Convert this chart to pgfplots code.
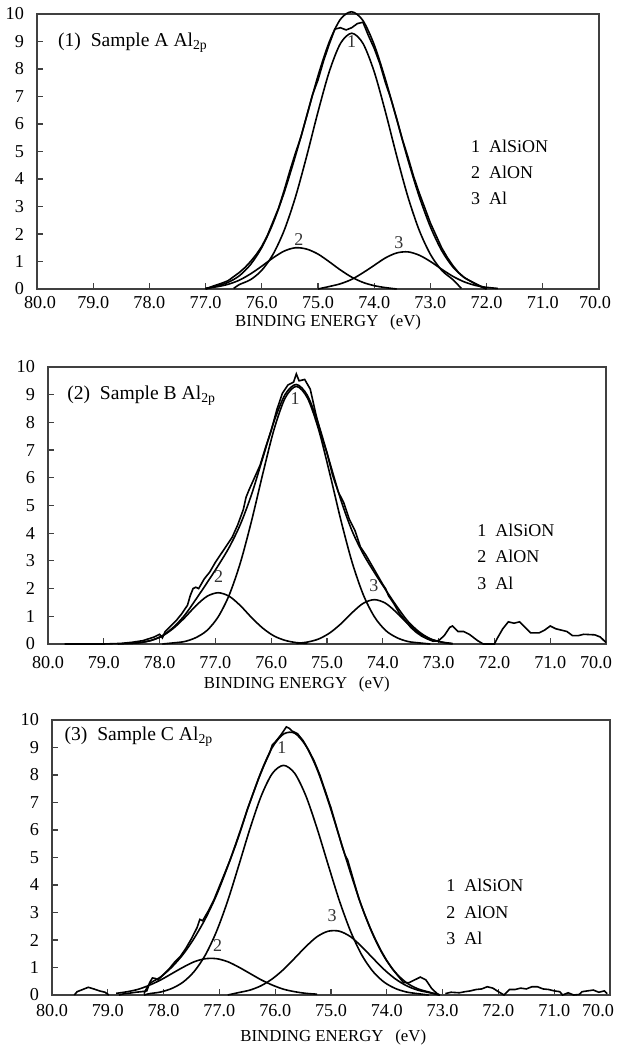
\documentclass[border=0pt]{standalone}
\usepackage{fontspec}
\setmainfont{Liberation Serif}
\usepackage{pgfplots}
\pgfplotsset{compat=1.18}
\pgfplotsset{
  xpsbase/.style={
    scale only axis,
    x dir=reverse,
    xmin=70, xmax=80, ymin=0, ymax=10,
    xtick={70,71,...,80},
    ytick={0,1,...,10},
    xtick pos=bottom, ytick pos=left,
    tick align=inside,
    major tick length=3pt,
    axis line style={line width=0.7pt, black!75},
    tick style={line width=0.6pt, black!75},
    /pgf/number format/assume math mode=true,
    xticklabel style={font=\fontsize{9.1}{10}\selectfont},
    yticklabel style={font=\fontsize{9.1}{10}\selectfont, xshift=-3pt},
    xlabel={BINDING ENERGY\hspace{0.7em}(eV)},
    clip=false,
    every axis plot/.append style={line width=0.8pt, black},
  },
  comp/.style={smooth, line width=0.8pt},
  meas/.style={line width=0.8pt},
}
\tikzset{
  lab/.style={font=\fontsize{9.8}{10}\selectfont, anchor=west},
  leg/.style={font=\fontsize{9}{10}\selectfont, anchor=west},
  pk/.style={font=\fontsize{9}{10}\selectfont, text=black!80},
}
\begin{document}
\begin{tikzpicture}
\useasboundingbox (0,0) rectangle (308pt,523.5pt);
%================ Panel 1 ================
\begin{axis}[xpsbase, at={(18.5pt,379pt)}, anchor=south west, width=281pt, height=137.5pt,
  xticklabels={{\kern-4pt70.0},71.0,72.0,73.0,74.0,75.0,76.0,77.0,78.0,79.0,{\kern3pt80.0}},
  xlabel style={at={(axis description cs:0.518,0)}, anchor=center, yshift=-16.5pt, font=\fontsize{8.4}{9}\selectfont}]
% component 1
\addplot[comp] coordinates {(76.5,0.02) (76.4,0.16) (76.2,0.34) (76.0,0.68) (75.8,1.26) (75.6,2.14) (75.4,3.35) (75.2,4.84) (75.0,6.44) (74.8,7.90) (74.6,8.93) (74.4,9.30) (74.2,8.93) (74.0,7.90) (73.8,6.44) (73.6,4.84) (73.4,3.35) (73.2,2.14) (73.0,1.26) (72.8,0.68) (72.6,0.34) (72.45,0.02)};
% component 2
\addplot[comp] coordinates {(77.0,0.03) (76.8,0.08) (76.6,0.17) (76.4,0.32) (76.2,0.55) (76.0,0.83) (75.8,1.13) (75.6,1.38) (75.4,1.50) (75.2,1.45) (75.0,1.27) (74.8,0.99) (74.6,0.69) (74.4,0.43) (74.2,0.24) (74.0,0.12) (73.8,0.05) (73.6,0.0)};
% component 3
\addplot[comp] coordinates {(75.0,0.0) (74.8,0.09) (74.6,0.19) (74.4,0.35) (74.2,0.59) (74.0,0.86) (73.8,1.13) (73.6,1.31) (73.4,1.35) (73.2,1.23) (73.0,1.00) (72.8,0.72) (72.6,0.46) (72.4,0.26) (72.2,0.13) (72.0,0.06) (71.8,0.02)};
% envelope
\addplot[comp] coordinates {(77.0,0.0) (76.8,0.11) (76.6,0.24) (76.4,0.48) (76.2,0.89) (76.0,1.51) (75.8,2.39) (75.6,3.52) (75.4,4.85) (75.2,6.29) (75.0,7.75) (74.8,8.98) (74.6,9.81) (74.4,10.08) (74.2,9.76) (74.0,8.88) (73.8,7.62) (73.6,6.17) (73.4,4.70) (73.2,3.37) (73.0,2.26) (72.8,1.40) (72.6,0.80) (72.4,0.42) (72.2,0.20) (72.0,0.0)};
% measured
\addplot[meas] coordinates {(77.0,0.0) (76.9,0.08) (76.8,0.15) (76.7,0.22) (76.6,0.3) (76.5,0.45) (76.4,0.6) (76.3,0.78) (76.2,1.0) (76.1,1.25) (76.0,1.55) (75.9,1.95) (75.8,2.45) (75.7,2.95) (75.6,3.6) (75.5,4.3) (75.4,4.95) (75.3,5.55) (75.2,6.3) (75.1,7.05) (75.0,7.6) (74.9,8.3) (74.8,8.9) (74.7,9.45) (74.6,9.5) (74.5,9.42) (74.4,9.5) (74.3,9.65) (74.2,9.7) (74.1,9.2) (74.0,8.75) (73.9,8.2) (73.8,7.5) (73.7,6.9) (73.6,6.2) (73.5,5.45) (73.4,4.8) (73.3,4.1) (73.2,3.5) (73.1,2.95) (73.0,2.4) (72.9,1.95) (72.8,1.5) (72.7,1.15) (72.6,0.85) (72.5,0.6) (72.4,0.42) (72.3,0.3) (72.2,0.18) (72.1,0.08) (72.0,0.0)};
\node[lab] at (axis cs:79.75,8.95) {(1)\ \ Sample A Al\textsubscript{2p}};
\node[leg] at (axis cs:72.4,5.2) {1\ \ AlSiON};
\node[leg] at (axis cs:72.4,4.25) {2\ \ AlON};
\node[leg] at (axis cs:72.4,3.31) {3\ \ Al};
\node[pk] at (axis cs:74.4,9.0) {1};
\node[pk] at (axis cs:75.34,1.8) {2};
\node[pk] at (axis cs:73.56,1.7) {3};
\end{axis}
%================ Panel 2 ================
\begin{axis}[xpsbase, at={(24pt,201.5pt)}, anchor=south west, width=279pt, height=138.5pt,
  xticklabels={{\kern-10pt70.0},71.0,72.0,73.0,74.0,75.0,76.0,77.0,78.0,79.0,80.0},
  xticklabel style={yshift=-2.5pt},
  xlabel style={at={(axis description cs:0.446,0)}, anchor=center, yshift=-20pt, font=\fontsize{8.4}{9}\selectfont}]
\addplot[comp] coordinates {(77.95,0.0) (77.75,0.04) (77.55,0.09) (77.35,0.23) (77.15,0.49) (76.95,0.98) (76.75,1.78) (76.55,2.95) (76.35,4.46) (76.15,6.15) (75.95,7.74) (75.75,8.88) (75.55,9.30) (75.35,8.88) (75.15,7.74) (74.95,6.15) (74.75,4.46) (74.55,2.95) (74.35,1.78) (74.15,0.98) (73.95,0.49) (73.75,0.23) (73.55,0.09) (73.35,0.04) (73.15,0.0)};
\addplot[comp] coordinates {(78.55,0.02) (78.35,0.05) (78.15,0.13) (77.95,0.29) (77.75,0.57) (77.55,0.95) (77.35,1.38) (77.15,1.72) (76.95,1.85) (76.75,1.72) (76.55,1.38) (76.35,0.95) (76.15,0.57) (75.95,0.29) (75.75,0.13) (75.55,0.05) (75.35,0.02)};
\addplot[comp] coordinates {(75.55,0.02) (75.35,0.07) (75.15,0.18) (74.95,0.40) (74.75,0.73) (74.55,1.13) (74.35,1.47) (74.15,1.60) (73.95,1.47) (73.75,1.13) (73.55,0.73) (73.35,0.40) (73.15,0.18) (72.95,0.07) (72.75,0.02)};
\addplot[comp] coordinates {(78.75,0.0) (78.55,0.02) (78.35,0.05) (78.15,0.13) (77.95,0.30) (77.75,0.61) (77.55,1.04) (77.35,1.61) (77.15,2.21) (76.95,2.83) (76.75,3.50) (76.55,4.33) (76.35,5.41) (76.15,6.72) (75.95,8.03) (75.75,9.01) (75.55,9.37) (75.35,8.97) (75.15,7.92) (74.95,6.55) (74.75,5.19) (74.55,4.08) (74.35,3.25) (74.15,2.58) (73.95,1.96) (73.75,1.36) (73.55,0.82) (73.35,0.44) (73.15,0.19) (72.95,0.07) (72.75,0.0)};
\addplot[meas] coordinates {(79.7,0) (79.0,0) (78.7,0.02) (78.5,0.06) (78.3,0.12) (78.1,0.25) (78.0,0.35) (77.95,0.22) (77.9,0.45) (77.8,0.65) (77.7,0.85) (77.6,1.1) (77.5,1.4) (77.45,1.75) (77.4,2.0) (77.35,2.05) (77.3,2.0) (77.2,2.35) (77.1,2.6) (77.0,2.95) (76.9,3.25) (76.8,3.55) (76.7,3.85) (76.6,4.3) (76.5,4.85) (76.45,5.3) (76.4,5.55) (76.3,6.0) (76.2,6.45) (76.1,7.1) (76.0,7.7) (75.9,8.45) (75.8,9.05) (75.7,9.35) (75.6,9.45) (75.55,9.75) (75.5,9.5) (75.4,9.55) (75.3,9.2) (75.2,8.3) (75.1,7.5) (75.0,6.9) (74.9,6.1) (74.8,5.5) (74.7,5.1) (74.6,4.5) (74.5,4.1) (74.4,3.5) (74.3,3.2) (74.2,2.85) (74.1,2.5) (74.0,2.15) (73.95,2.0) (73.9,1.75) (73.8,1.45) (73.7,1.1) (73.6,0.85) (73.5,0.6) (73.4,0.42) (73.3,0.28) (73.2,0.18) (73.1,0.1) (73.0,0.12) (72.9,0.3) (72.8,0.6) (72.75,0.65) (72.65,0.45) (72.55,0.45) (72.45,0.35) (72.3,0.12) (72.2,0.0) (72.0,0.0) (71.95,0.2) (71.85,0.55) (71.75,0.8) (71.65,0.75) (71.55,0.8) (71.45,0.6) (71.35,0.4) (71.2,0.4) (71.1,0.5) (71.0,0.65) (70.9,0.55) (70.8,0.5) (70.7,0.45) (70.6,0.3) (70.5,0.3) (70.4,0.35) (70.2,0.33) (70.1,0.25) (70.0,0.05)};
\node[lab] at (axis cs:79.78,8.95) {(2)\ \ Sample B Al\textsubscript{2p}};
\node[leg] at (axis cs:72.43,4.12) {1\ \ AlSiON};
\node[leg] at (axis cs:72.43,3.18) {2\ \ AlON};
\node[leg] at (axis cs:72.43,2.2) {3\ \ Al};
\node[pk] at (axis cs:75.57,8.85) {1};
\node[pk] at (axis cs:76.94,2.45) {2};
\node[pk] at (axis cs:74.16,2.1) {3};
\end{axis}
%================ Panel 3 ================
\begin{axis}[xpsbase, at={(26pt,26pt)}, anchor=south west, width=279pt, height=137.5pt,
  xticklabels={{\kern-12pt70.0},71.0,72.0,73.0,74.0,75.0,76.0,77.0,78.0,79.0,80.0},
  xticklabel style={yshift=-1pt},
  xlabel style={at={(axis description cs:0.504,0)}, anchor=center, yshift=-21pt, font=\fontsize{8.4}{9}\selectfont}]
\addplot[comp] coordinates {(78.35,0.0) (78.25,0.05) (78.05,0.11) (77.85,0.24) (77.65,0.47) (77.45,0.86) (77.25,1.46) (77.05,2.32) (76.85,3.43) (76.65,4.73) (76.45,6.06) (76.25,7.24) (76.05,8.06) (75.85,8.35) (75.65,8.06) (75.45,7.24) (75.25,6.06) (75.05,4.73) (74.85,3.43) (74.65,2.32) (74.45,1.46) (74.25,0.86) (74.05,0.47) (73.85,0.24) (73.65,0.11) (73.45,0.05) (73.25,0.0)};
\addplot[comp] coordinates {(78.85,0.06) (78.65,0.12) (78.45,0.21) (78.25,0.36) (78.05,0.55) (77.85,0.78) (77.65,1.01) (77.45,1.21) (77.25,1.32) (77.05,1.32) (76.85,1.21) (76.65,1.01) (76.45,0.78) (76.25,0.55) (76.05,0.36) (75.85,0.21) (75.65,0.12) (75.45,0.06) (75.25,0.03)};
\addplot[comp] coordinates {(76.85,0.0) (76.65,0.09) (76.45,0.18) (76.25,0.34) (76.05,0.59) (75.85,0.93) (75.65,1.34) (75.45,1.76) (75.25,2.12) (75.05,2.32) (74.85,2.32) (74.65,2.12) (74.45,1.76) (74.25,1.34) (74.05,0.93) (73.85,0.59) (73.65,0.34) (73.45,0.18) (73.25,0.09) (73.05,0.0)};
\addplot[comp] coordinates {(78.35,0.05) (78.25,0.41) (78.05,0.66) (77.85,1.02) (77.65,1.48) (77.45,2.07) (77.25,2.78) (77.05,3.64) (76.85,4.68) (76.65,5.83) (76.45,7.02) (76.25,8.13) (76.05,9.01) (75.85,9.49) (75.65,9.52) (75.45,9.06) (75.25,8.21) (75.05,7.05) (74.85,5.75) (74.65,4.44) (74.45,3.22) (74.25,2.20) (74.05,1.40) (73.85,0.83) (73.65,0.45) (73.45,0.23) (73.25,0.11) (73.05,0.0)};
\addplot[meas] coordinates {(79.6,0) (79.55,0.12) (79.45,0.2) (79.35,0.28) (79.25,0.22) (79.15,0.15) (79.05,0.1) (78.98,0.0)};
\addplot[meas] coordinates {(78.8,0.0) (78.7,0.05) (78.6,0.07) (78.5,0.1) (78.4,0.12) (78.3,0.15) (78.25,0.45) (78.2,0.62) (78.15,0.6) (78.1,0.55) (78.0,0.75) (77.9,0.95) (77.8,1.2) (77.7,1.4) (77.6,1.7) (77.5,2.05) (77.4,2.45) (77.35,2.75) (77.3,2.7) (77.2,3.05) (77.1,3.45) (77.0,3.95) (76.9,4.45) (76.8,4.95) (76.7,5.5) (76.6,6.1) (76.5,6.75) (76.4,7.3) (76.3,7.85) (76.2,8.35) (76.1,8.8) (76.05,9.1) (76.0,9.2) (75.9,9.45) (75.8,9.75) (75.75,9.7) (75.7,9.6) (75.6,9.5) (75.5,9.25) (75.4,8.9) (75.3,8.5) (75.2,8.0) (75.1,7.4) (75.0,6.8) (74.9,6.1) (74.8,5.4) (74.75,5.1) (74.7,4.9) (74.6,4.2) (74.5,3.5) (74.4,2.95) (74.3,2.45) (74.2,2.0) (74.1,1.6) (74.0,1.25) (73.9,0.95) (73.8,0.7) (73.7,0.45) (73.6,0.45) (73.5,0.55) (73.4,0.65) (73.3,0.55) (73.2,0.25) (73.1,0.05) (73.05,0.0)};
\addplot[meas] coordinates {(72.95,0.05) (72.85,0.1) (72.7,0.08) (72.6,0.12) (72.5,0.15) (72.4,0.2) (72.3,0.22) (72.2,0.3) (72.1,0.25) (72.0,0.12) (71.9,0.0) (71.85,0.1) (71.8,0.2) (71.7,0.2) (71.6,0.25) (71.5,0.22) (71.4,0.3) (71.3,0.3) (71.2,0.22) (71.1,0.2) (71.0,0.15) (70.9,0.12) (70.85,0.0) (70.75,0.08) (70.65,0.0) (70.55,0.02) (70.5,0.12) (70.4,0.15) (70.3,0.18) (70.2,0.1) (70.1,0.15) (70.05,0.05)};
\node[lab] at (axis cs:79.9,9.38) {(3)\ \ Sample C Al\textsubscript{2p}};
\node[leg] at (axis cs:73.06,4.0) {1\ \ AlSiON};
\node[leg] at (axis cs:73.06,3.02) {2\ \ AlON};
\node[leg] at (axis cs:73.06,2.07) {3\ \ Al};
\node[pk] at (axis cs:75.88,9.0) {1};
\node[pk] at (axis cs:77.03,1.8) {2};
\node[pk] at (axis cs:74.98,2.9) {3};
\end{axis}
\end{tikzpicture}
\end{document}
